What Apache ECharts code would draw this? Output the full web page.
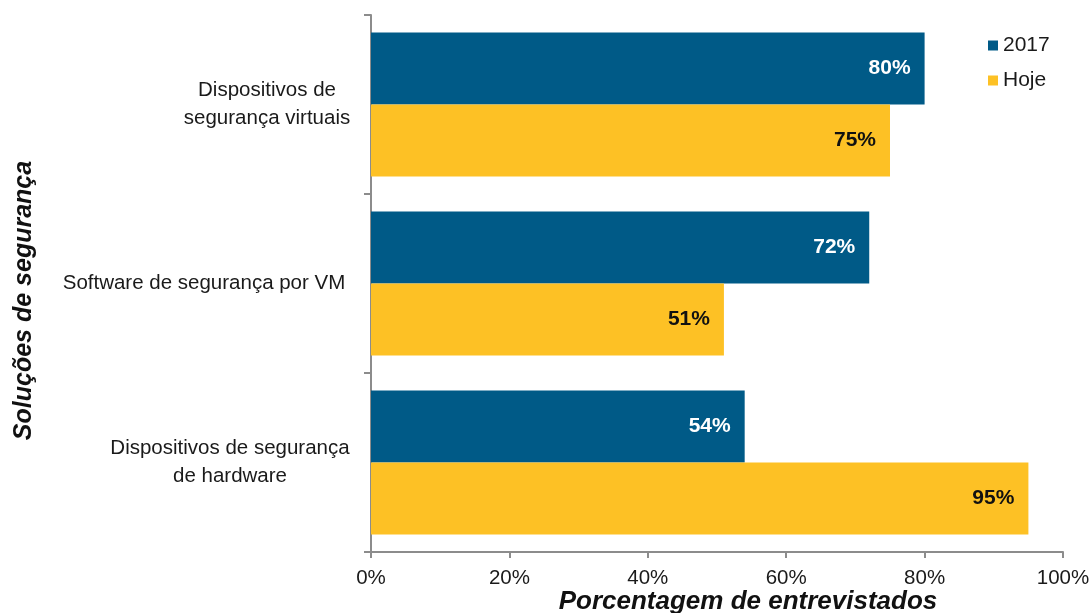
<!DOCTYPE html>
<html>
<head>
<meta charset="utf-8">
<script src="https://cdn.jsdelivr.net/npm/echarts@6/dist/echarts.min.js"></script>
<style>
  html, body { margin: 0; padding: 0; background: #fff; }
  #chart { width: 1092px; height: 613px; }
</style>
</head>
<body>
<div id="chart"></div>
<script>
// Categories, top to bottom
const categories = [
  'Dispositivos de\nsegurança virtuais',
  'Software de segurança por VM',
  'Dispositivos de segurança\nde hardware'
];
const seriesNames = ['2017', 'Hoje'];
const values2017 = [80, 72, 54];
const valuesHoje = [75, 51, 95];
const xTicks = ['0%', '20%', '40%', '60%', '80%', '100%'];

const NAVY = '#005A87';
const GOLD = '#FDC125';
const FONT = '"Liberation Sans", Arial, sans-serif';

// Each category label sits in a fixed-width rich box so its lines centre on each other
const labelBase = { align: 'center', fontSize: 20.5, lineHeight: 28, color: '#1a1a1a', fontFamily: FONT };
const richStyles = {
  a: Object.assign({ width: 176 }, labelBase),
  c: Object.assign({ width: 302 }, labelBase),
  b: Object.assign({ width: 250 }, labelBase)
};
const richKeys = ['a', 'c', 'b'];
function catLabel(v, i) {
  const key = richKeys[i];
  return v.split('\n').map(l => '{' + key + '|' + l + '}').join('\n');
}

const chart = echarts.init(document.getElementById('chart'), null, { renderer: 'canvas' });
chart.setOption({
  animation: false,
  textStyle: { fontFamily: FONT },
  grid: { left: 371, right: 29, top: 15, bottom: 61, containLabel: false, outerBoundsMode: 'none' },
  legend: {
    orient: 'vertical',
    left: 983,
    top: 30,
    itemWidth: 10,
    itemHeight: 10,
    itemGap: 14,
    icon: 'rect',
    textStyle: { fontSize: 21, color: '#1a1a1a', fontFamily: FONT, padding: [0, 0, 0, 0] },
    data: seriesNames
  },
  xAxis: {
    type: 'value',
    min: 0,
    max: 100,
    interval: 20,
    name: 'Porcentagem de entrevistados',
    nameLocation: 'middle',
    nameGap: 37,
    nameMoveOverlap: false,
    nameTextStyle: {
      fontSize: 26, fontWeight: 'bold', fontStyle: 'italic', color: '#111',
      fontFamily: FONT, padding: [0, 0, 0, 62]
    },
    axisLine: { show: true, lineStyle: { color: '#8c8c8c', width: 2 } },
    axisTick: { show: true, length: 6, lineStyle: { color: '#8c8c8c', width: 2 } },
    splitLine: { show: false },
    axisLabel: {
      fontSize: 20.5, color: '#1a1a1a', margin: 16, fontFamily: FONT,
      formatter: v => xTicks[v / 20]
    }
  },
  yAxis: {
    type: 'category',
    inverse: true,
    data: categories,
    name: 'Soluções de segurança',
    nameLocation: 'middle',
    nameGap: 334,
    nameMoveOverlap: false,
    nameRotate: 90,
    nameTextStyle: {
      fontSize: 25, fontWeight: 'bold', fontStyle: 'italic', color: '#111', fontFamily: FONT,
      padding: [0, 34, 0, 0]
    },
    axisLine: { show: true, lineStyle: { color: '#8c8c8c', width: 2 } },
    axisTick: { show: true, length: 7, alignWithLabel: false, lineStyle: { color: '#8c8c8c', width: 2 } },
    axisLabel: {
      fontSize: 20.5, color: '#1a1a1a', margin: 16, lineHeight: 28, fontFamily: FONT,
      formatter: catLabel,
      rich: richStyles
    }
  },
  series: [
    {
      name: seriesNames[0],
      type: 'bar',
      data: values2017,
      barGap: '0%',
      barCategoryGap: '19.5%',
      itemStyle: { color: NAVY },
      label: {
        show: true, position: 'insideRight', distance: 14,
        formatter: p => p.value + '%',
        color: '#ffffff', fontSize: 21, fontWeight: 'bold', fontFamily: FONT
      }
    },
    {
      name: seriesNames[1],
      type: 'bar',
      data: valuesHoje,
      barGap: '0%',
      barCategoryGap: '19.5%',
      itemStyle: { color: GOLD },
      label: {
        show: true, position: 'insideRight', distance: 14,
        formatter: p => p.value + '%',
        color: '#111111', fontSize: 21, fontWeight: 'bold', fontFamily: FONT
      }
    }
  ]
});
</script>
</body>
</html>
